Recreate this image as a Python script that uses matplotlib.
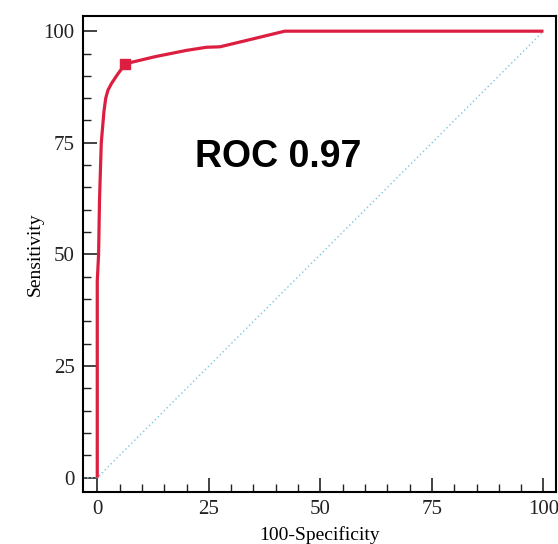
import matplotlib
matplotlib.use("Agg")
import matplotlib.pyplot as plt
from matplotlib.ticker import MultipleLocator

# ROC curve points
fpr = [0, 0, 0.3, 0.5, 0.9, 1.5, 1.9, 2.4, 3.2, 4.6, 6.3, 13, 20, 24.5, 27.5, 35, 42, 100]
tpr = [0, 44, 50, 62, 75, 82, 85, 86.8, 88.3, 90.4, 92.7, 94.3, 95.7, 96.4, 96.5, 98.3, 100, 100]
# criterion point (square marker)
crit_x = [6.3]
crit_y = [92.7]
# reference (chance) line
ref_x = [-3.2, 0, 100]
ref_y = [0, 0, 100]
ticks = [0, 25, 50, 75, 100]
auc_text = "ROC 0.97"

red = "#dc1f41"

fig = plt.figure(figsize=(5.58, 5.44), dpi=100)
ax = fig.add_axes([0.1487, 0.0956, 0.8477, 0.875])

ax.plot(ref_x, ref_y, color="#7cc4e0", lw=1.0, ls=(0, (1, 2)))
ax.plot(fpr, tpr, color=red, lw=2.3, solid_capstyle="butt", solid_joinstyle="round")
ax.plot(crit_x, crit_y, "s", color=red, ms=6.5)

ax.text(40.6, 71.8, auc_text, fontsize=27, fontweight="bold",
        family="Liberation Sans", ha="center", va="center")

ax.set_xlim(-3.2, 102.8)
ax.set_ylim(-3.2, 103.4)
ax.set_xticks(ticks)
ax.set_yticks(ticks)
ax.xaxis.set_minor_locator(MultipleLocator(5))
ax.yaxis.set_minor_locator(MultipleLocator(5))
ax.tick_params(which="major", direction="in", length=10, width=1.2, pad=6,
               labelsize=15, labelfontfamily="Liberation Serif", colors="#222222")
ax.tick_params(which="minor", direction="in", length=6, width=1.0, color="#222222")

for s in ax.spines.values():
    s.set_linewidth(1.5)

ax.set_xlabel("100-Specificity", fontsize=14, family="Liberation Serif", labelpad=5)
ax.set_ylabel("Sensitivity", fontsize=14, family="Liberation Serif", labelpad=0)

fig.savefig("out.png", dpi=100)
